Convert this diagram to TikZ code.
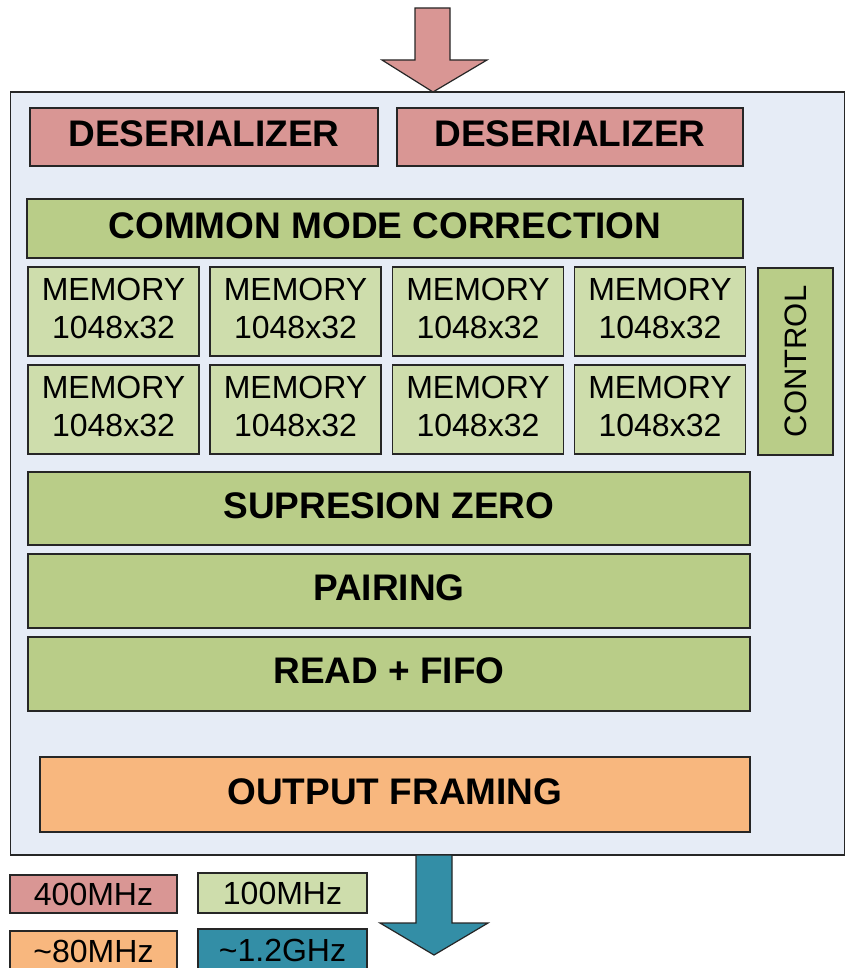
\documentclass[tikz,border=0pt]{standalone}
\usepackage{fontspec}
\setmainfont{Liberation Sans}
\definecolor{pinkc}{HTML}{D99694}
\definecolor{greenc}{HTML}{B9CD88}
\definecolor{lgreenc}{HTML}{CEDDAC}
\definecolor{orangec}{HTML}{F8B77E}
\definecolor{tealc}{HTML}{338EA6}
\definecolor{bgc}{HTML}{E6ECF6}
\definecolor{edgec}{HTML}{262626}
\tikzset{
  blk/.style={draw=edgec, line width=1.4pt, inner sep=0pt, anchor=center},
  bigtxt/.style={font=\fontsize{37}{40}\selectfont\bfseries, text depth=6pt},
  memtxt/.style={font=\fontsize{32}{38}\selectfont, align=center, text depth=6pt},
  legtxt/.style={font=\fontsize{32}{34}\selectfont},
  bigarrow/.style={draw=edgec, line width=1.2pt}
}
\begin{document}
\begin{tikzpicture}[x=1pt,y=-1pt]
\useasboundingbox (0,0) rectangle (845,968);
% outer frame
\node[blk, fill=bgc, minimum width=834, minimum height=763] (frame) at (427.5,473.5) {};
% top arrow
\coordinate (tin) at (433,92);
\draw[bigarrow, fill=pinkc] (415,8) -- (450,8) -- (450,60) -- (487,60) -- (tin) -- (382,60) -- (415,60) -- cycle;
% deserializers
\node[blk, fill=pinkc, minimum width=348, minimum height=58, bigtxt] (des1) at (204,137) {DESERIALIZER};
\node[blk, fill=pinkc, minimum width=346, minimum height=58, bigtxt] (des2) at (570,137) {DESERIALIZER};
% common mode
\node[blk, fill=greenc, minimum width=716, minimum height=59, bigtxt] (cmc) at (385,228.5) {COMMON MODE CORRECTION};
% memories
\foreach \i/\cx in {1/113.5, 2/295.5, 3/478, 4/660}{
  \node[blk, fill=lgreenc, minimum width=171, minimum height=89, memtxt] (memA\i) at (\cx,311.5) {MEMORY\\1048x32};
  \node[blk, fill=lgreenc, minimum width=171, minimum height=89, memtxt] (memB\i) at (\cx,409.5) {MEMORY\\1048x32};
}
% control
\node[blk, fill=greenc, minimum width=187, minimum height=75, rotate=90, font=\fontsize{31}{34}\selectfont] (ctrl) at (795.5,361.5) {CONTROL};
% processing stages
\node[blk, fill=greenc, minimum width=722, minimum height=73, bigtxt] (sz) at (389,508.5) {SUPRESION ZERO};
\node[blk, fill=greenc, minimum width=722, minimum height=74, bigtxt] (pair) at (389,591) {PAIRING};
\node[blk, fill=greenc, minimum width=722, minimum height=74, bigtxt] (fifo) at (389,674) {READ + FIFO};
\node[blk, fill=orangec, minimum width=710, minimum height=75, bigtxt] (outf) at (395,794.5) {OUTPUT FRAMING};
% bottom arrow
\coordinate (tout) at (434,955);
\draw[bigarrow, fill=tealc] (416,855) -- (452,855) -- (452,923) -- (488,923) -- (tout) -- (380,923) -- (416,923) -- cycle;
% legend
\node[blk, fill=pinkc, minimum width=167, minimum height=38, legtxt] (l400) at (93.5,894) {400MHz};
\node[blk, fill=lgreenc, minimum width=169, minimum height=40, legtxt] (l100) at (282.5,893) {100MHz};
\node[blk, fill=orangec, minimum width=167, minimum height=40, legtxt] (l80) at (93.5,951) {\char`\~80MHz};
\node[blk, fill=tealc, minimum width=169, minimum height=42, legtxt] (l12) at (282.5,950) {\char`\~1.2GHz};
\end{tikzpicture}
\end{document}
